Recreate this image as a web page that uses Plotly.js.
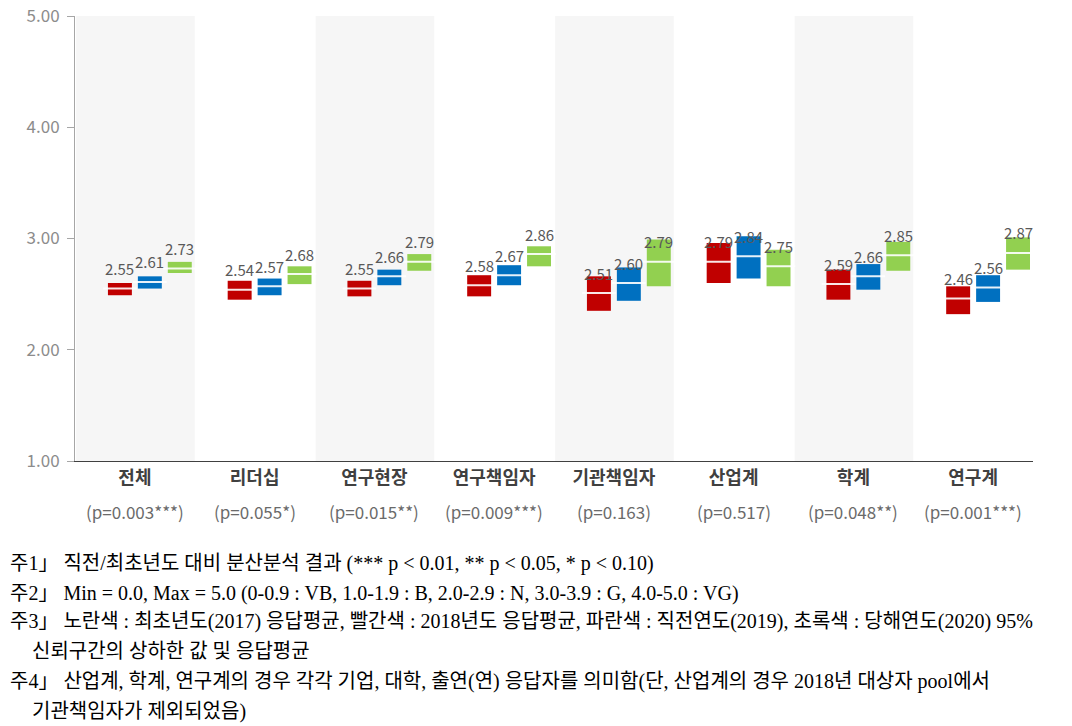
<!DOCTYPE html>
<html>
<head>
<meta charset="utf-8">
<script src="https://cdn.plot.ly/plotly-3.0.1.min.js"></script>
<style>html,body{margin:0;padding:0;background:#fff;}#chart{width:1072px;height:726px;}</style>
</head>
<body>
<div id="chart"></div>
<script>
// ---- data ----
const categories = ["전체", "리더십", "연구현장", "연구책임자", "기관책임자", "산업계", "학계", "연구계"];
const pLabels = ["(p=0.003***)", "(p=0.055*)", "(p=0.015**)", "(p=0.009***)", "(p=0.163)", "(p=0.517)", "(p=0.048**)", "(p=0.001***)"];

// 2018 (red): lower/upper 95% CI and mean
const red2018Low  = [2.49, 2.45, 2.48, 2.48, 2.35, 2.60, 2.45, 2.32];
const red2018High = [2.60, 2.62, 2.62, 2.67, 2.66, 2.96, 2.72, 2.57];
const red2018Mean = [2.55, 2.54, 2.55, 2.58, 2.51, 2.79, 2.59, 2.46];
// 2019 (blue)
const blue2019Low  = [2.55, 2.49, 2.58, 2.58, 2.44, 2.64, 2.54, 2.43];
const blue2019High = [2.66, 2.64, 2.72, 2.76, 2.74, 3.02, 2.77, 2.67];
const blue2019Mean = [2.61, 2.57, 2.66, 2.67, 2.60, 2.84, 2.66, 2.56];
// 2020 (green)
const green2020Low  = [2.69, 2.59, 2.71, 2.75, 2.57, 2.57, 2.71, 2.72];
const green2020High = [2.79, 2.75, 2.86, 2.93, 2.99, 2.90, 2.97, 3.01];
const green2020Mean = [2.73, 2.68, 2.79, 2.86, 2.79, 2.75, 2.85, 2.87];

const yTicks = [1, 2, 3, 4, 5];

const notes = [
  "주1」 직전/최초년도 대비 분산분석 결과 (*** p &lt; 0.01, ** p &lt; 0.05, * p &lt; 0.10)",
  "주2」 Min = 0.0, Max = 5.0 (0-0.9 : VB, 1.0-1.9 : B, 2.0-2.9 : N, 3.0-3.9 : G, 4.0-5.0 : VG)",
  "주3」 노란색 : 최초년도(2017) 응답평균, 빨간색 : 2018년도 응답평균, 파란색 : 직전연도(2019), 초록색 : 당해연도(2020) 95%",
  "신뢰구간의 상하한 값 및 응답평균",
  "주4」 산업계, 학계, 연구계의 경우 각각 기업, 대학, 출연(연) 응답자를 의미함(단, 산업계의 경우 2018년 대상자 pool에서",
  "기관책임자가 제외되었음)"
];

// ---- layout constants ----
const W = 1072, H = 726;
const M = {l: 75, r: 39, t: 16, b: 265};
const plotH = H - M.t - M.b;
const boxW = 0.2;
const series = [
  {low: red2018Low, high: red2018High, mean: red2018Mean, color: "#c00000", off: -0.125},
  {low: blue2019Low, high: blue2019High, mean: blue2019Mean, color: "#0070c0", off: 0.125},
  {low: green2020Low, high: green2020High, mean: green2020Mean, color: "#92d050", off: 0.375}
];
const idx = categories.map((c, i) => i);
const sansKR = "Noto Sans CJK KR, Noto Sans, sans-serif";

const traces = [];
const annotations = [];
series.forEach(s => {
  const xs = idx.map(i => i + s.off);
  traces.push({
    type: "bar", x: xs, base: s.low, y: s.high.map((h, i) => h - s.low[i]),
    width: boxW, marker: {color: s.color, line: {width: 0}},
    hoverinfo: "skip", showlegend: false
  });
  traces.push({
    type: "scatter", mode: "markers", x: xs, y: s.mean,
    marker: {symbol: "line-ew", size: 24, line: {color: "rgba(255,255,255,0.9)", width: 2}},
    hoverinfo: "skip", showlegend: false
  });
  xs.forEach((x, i) => {
    annotations.push({
      x: x, y: s.mean[i], xref: "x", yref: "y", text: s.mean[i].toFixed(2),
      showarrow: false, yshift: 20,
      font: {family: sansKR, size: 15, color: "#595959"}
    });
  });
});

const px2paperY = py => (H - M.b - py) / plotH;
const px2paperX = px => (px - M.l) / (W - M.l - M.r);

// p-value labels under the category names
idx.forEach(i => {
  annotations.push({
    xref: "x", yref: "paper", x: i, y: px2paperY(512), yanchor: "middle",
    text: pLabels[i], showarrow: false,
    font: {family: sansKR, size: 17, color: "#6a6a6a"}
  });
});

// notes below the chart
const noteY = [563, 593, 622, 651, 681, 711];
const noteX = [8, 8, 8, 30, 8, 30];
notes.forEach((t, i) => {
  annotations.push({
    xref: "paper", yref: "paper", x: px2paperX(noteX[i]), y: px2paperY(noteY[i]),
    xanchor: "left", yanchor: "middle", text: t, showarrow: false,
    font: {family: "Liberation Serif, Noto Sans CJK KR, serif", size: 20, color: "#000"}
  });
});

const shapes = [];
idx.forEach(i => {
  if (i % 2 === 0) {
    shapes.push({type: "rect", xref: "x", yref: "paper", x0: i - 0.49, x1: i + 0.5, y0: 0, y1: 1,
      fillcolor: "#f6f6f6", line: {width: 0}, layer: "below"});
  }
});

const tickText = categories.map(c => "<b>" + c + "</b>");

const layout = {
  width: W, height: H,
  margin: M,
  paper_bgcolor: "#fff", plot_bgcolor: "#fff",
  barmode: "overlay",
  showlegend: false,
  font: {family: sansKR},
  xaxis: {
    range: [-0.5, 7.5], tickvals: idx, ticktext: tickText,
    showgrid: false, zeroline: false, showline: true, linecolor: "#404040", linewidth: 1,
    ticks: "", tickfont: {size: 18, color: "#404040"}, fixedrange: true
  },
  yaxis: {
    range: [1, 5], tickvals: yTicks, tickformat: ".2f",
    showgrid: false, zeroline: false, showline: true, linecolor: "#a6a6a6", linewidth: 1,
    ticks: "outside", ticklen: 7, tickcolor: "#a6a6a6", ticklabelstandoff: 4,
    tickfont: {size: 17, color: "#8c8c8c"}, fixedrange: true
  },
  shapes: shapes,
  annotations: annotations
};

Plotly.newPlot("chart", traces, layout, {staticPlot: true, displayModeBar: false});
</script>
</body>
</html>
